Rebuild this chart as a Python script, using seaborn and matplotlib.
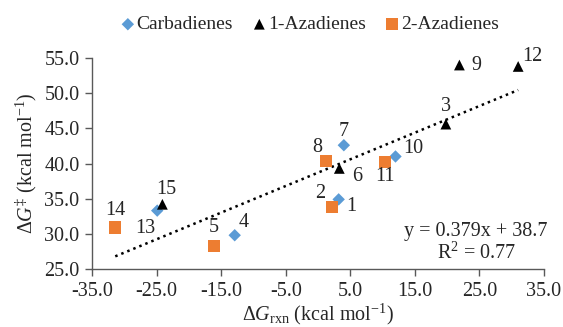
import numpy as np
import pandas as pd
import matplotlib
matplotlib.use("Agg")
import matplotlib.pyplot as plt
import seaborn as sns

# data
carba_id = ["1", "4", "7", "10", "13"]
carba_x = [3.2, -12.9, 4.0, 12.0, -24.9]
carba_y = [34.9, 29.8, 42.6, 41.0, 33.3]

aza1_id = ["3", "6", "9", "12", "15"]
aza1_x = [19.8, 3.3, 21.9, 31.0, -24.1]
aza1_y = [45.6, 39.3, 54.0, 53.8, 34.2]

aza2_id = ["2", "5", "8", "11", "14"]
aza2_x = [2.2, -16.1, 1.2, 10.4, -31.4]
aza2_y = [33.85, 28.3, 40.35, 40.2, 30.9]

groups = ["Carbadienes", "1-Azadienes", "2-Azadienes"]
slope, intercept, r2 = 0.379, 38.7, 0.77

# label offsets in pixels (dx, dy), dy up positive
label_offsets = {
    "1": (13, -7), "2": (-12, 13), "3": (0, 18), "4": (9, 13), "5": (0, 18),
    "6": (18, -8), "7": (0, 14), "8": (-8, 14), "9": (17, 0), "10": (18, 8),
    "11": (0, -14), "12": (14, 10), "13": (-12, -18), "14": (0, 17), "15": (4, 15),
}

df = pd.DataFrame({
    "id": carba_id + aza1_id + aza2_id,
    "x": carba_x + aza1_x + aza2_x,
    "y": carba_y + aza1_y + aza2_y,
    "group": [groups[0]] * 5 + [groups[1]] * 5 + [groups[2]] * 5,
})

sns.set_style("white")
plt.rcParams["font.family"] = ["Liberation Serif", "DejaVu Serif"]
plt.rcParams["mathtext.fontset"] = "custom"
plt.rcParams["mathtext.rm"] = "Liberation Serif"
plt.rcParams["mathtext.it"] = "Liberation Serif:italic"
fs = 14.5

fig = plt.figure(figsize=(5.63, 3.27), dpi=100)
ax = fig.add_axes([92 / 563, 1 - 269 / 327, (544 - 92) / 563, (269 - 58) / 327])

palette = {groups[0]: "#5B9BD5", groups[1]: "black", groups[2]: "#ED7D31"}
markers = {groups[0]: "D", groups[1]: "^", groups[2]: "s"}
sizes = {groups[0]: 40, groups[1]: 60, groups[2]: 75}

for g in groups:
    sub = df[df["group"] == g]
    sns.scatterplot(data=sub, x="x", y="y", color=palette[g], marker=markers[g],
                    s=sizes[g], edgecolor="none", label=g, ax=ax, zorder=3)

# trendline across data range
xs = np.linspace(df["x"].min(), df["x"].max(), 50)
ax.plot(xs, slope * xs + intercept, color="black", linestyle=(0, (1, 1.6)), lw=1.8, zorder=2)

for _, row in df.iterrows():
    dx, dy = label_offsets[row["id"]]
    ax.annotate(row["id"], (row["x"], row["y"]), xytext=(dx, dy), textcoords="offset pixels",
                ha="center", va="center", fontsize=fs)

ax.text(0.85, 0.125, f"y = {slope}x + {intercept}\nR$^2$ = {r2}", transform=ax.transAxes,
        ha="center", va="center", fontsize=fs, linespacing=1.1)

ax.set_xlim(-35, 35)
ax.set_ylim(25, 55)
ax.set_xticks(np.arange(-35, 36, 10))
ax.set_yticks(np.arange(25, 56, 5))
ax.set_xticklabels([f"{v:.1f}" for v in np.arange(-35, 36, 10)])
ax.set_yticklabels([f"{v:.1f}" for v in np.arange(25, 56, 5)])
ax.tick_params(axis="both", labelsize=fs, direction="out", length=5, width=1, color="#595959",
               pad=4, bottom=True, left=True)
for s in ["top", "right"]:
    ax.spines[s].set_visible(False)
for s in ["left", "bottom"]:
    ax.spines[s].set_color("#595959")
    ax.spines[s].set_linewidth(1)

ax.set_xlabel(r"$\Delta G_{\rm rxn}$ (kcal mol$^{-1}$)", fontsize=fs, labelpad=1)
ax.set_ylabel(r"$\Delta G^{\ddag}$ (kcal mol$^{-1}$)", fontsize=fs, labelpad=4)

ax.legend(loc="lower center", bbox_to_anchor=(0.48, 1.08), ncol=3, frameon=False, fontsize=14,
          handletextpad=0.0, columnspacing=0.9, handlelength=0.9, borderaxespad=0)

fig.savefig("out.png", dpi=100)
